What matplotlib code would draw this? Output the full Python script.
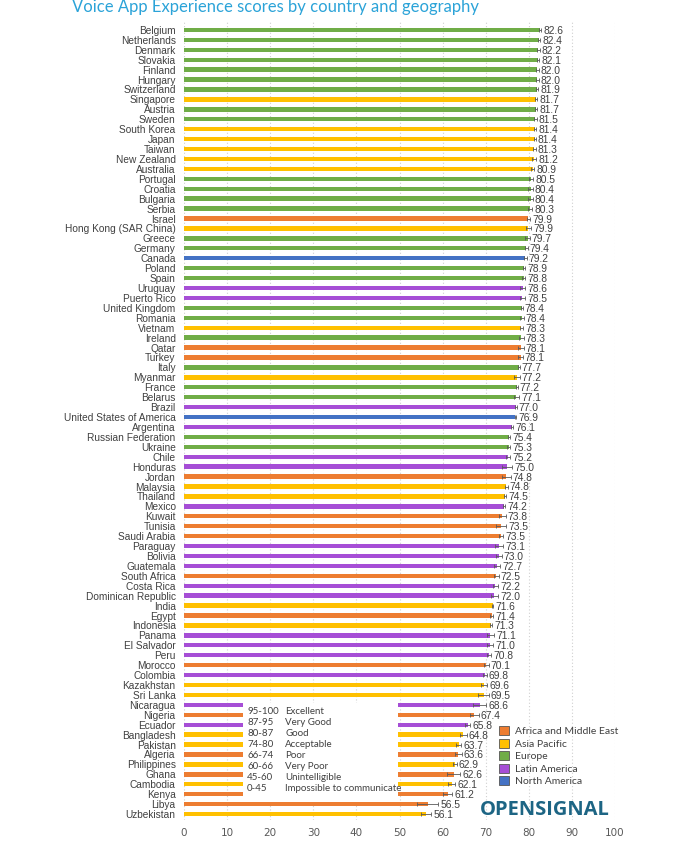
import matplotlib.pyplot as plt
from matplotlib.patches import Patch, Rectangle

# ----------------------------------------
# datos (de arriba hacia abajo)
# ----------------------------------------
paises = [
    "Belgium", "Netherlands", "Denmark", "Slovakia", "Finland", "Hungary",
    "Switzerland", "Singapore", "Austria", "Sweden", "South Korea", "Japan",
    "Taiwan", "New Zealand", "Australia", "Portugal", "Croatia", "Bulgaria",
    "Serbia", "Israel", "Hong Kong (SAR China)", "Greece", "Germany", "Canada",
    "Poland", "Spain", "Uruguay", "Puerto Rico", "United Kingdom", "Romania",
    "Vietnam", "Ireland", "Qatar", "Turkey", "Italy", "Myanmar", "France",
    "Belarus", "Brazil", "United States of America", "Argentina",
    "Russian Federation", "Ukraine", "Chile", "Honduras", "Jordan", "Malaysia",
    "Thailand", "Mexico", "Kuwait", "Tunisia", "Saudi Arabia", "Paraguay",
    "Bolivia", "Guatemala", "South Africa", "Costa Rica", "Dominican Republic",
    "India", "Egypt", "Indonesia", "Panama", "El Salvador", "Peru", "Morocco",
    "Colombia", "Kazakhstan", "Sri Lanka", "Nicaragua", "Nigeria", "Ecuador",
    "Bangladesh", "Pakistan", "Algeria", "Philippines", "Ghana", "Cambodia",
    "Kenya", "Libya", "Uzbekistan",
]

puntajes = [
    82.6, 82.4, 82.2, 82.1, 82.0, 82.0, 81.9, 81.7, 81.7, 81.5, 81.4, 81.4,
    81.3, 81.2, 80.9, 80.5, 80.4, 80.4, 80.3, 79.9, 79.9, 79.7, 79.4, 79.2,
    78.9, 78.8, 78.6, 78.5, 78.4, 78.4, 78.3, 78.3, 78.1, 78.1, 77.7, 77.2,
    77.2, 77.1, 77.0, 76.9, 76.1, 75.4, 75.3, 75.2, 75.0, 74.8, 74.8, 74.5,
    74.2, 73.8, 73.5, 73.5, 73.1, 73.0, 72.7, 72.5, 72.2, 72.0, 71.6, 71.4,
    71.3, 71.1, 71.0, 70.8, 70.1, 69.8, 69.6, 69.5, 68.6, 67.4, 65.8, 64.8,
    63.7, 63.6, 62.9, 62.6, 62.1, 61.2, 56.5, 56.1,
]

# intervalo de confianza aproximado
errores = [
    0.2, 0.3, 0.3, 0.3, 0.3, 0.3, 0.3, 0.3, 0.3, 0.3, 0.3, 0.2,
    0.3, 0.5, 0.3, 0.5, 0.5, 0.5, 0.5, 0.4, 0.6, 0.5, 0.3, 0.3,
    0.3, 0.3, 0.6, 0.6, 0.2, 0.4, 0.4, 0.5, 0.7, 0.5, 0.2, 0.7,
    0.2, 0.6, 0.2, 0.2, 0.3, 0.3, 0.4, 0.5, 1.2, 1.0, 0.3, 0.3,
    0.3, 0.8, 1.2, 0.5, 1.0, 0.7, 0.7, 0.5, 0.6, 0.8, 0.2, 0.4,
    0.2, 0.8, 0.8, 0.4, 0.6, 0.4, 0.8, 1.2, 1.5, 1.0, 0.6, 0.8,
    0.6, 0.8, 0.4, 1.5, 0.8, 1.0, 2.5, 1.2,
]

E, AP, AME, LA, NA = "Europe", "Asia Pacific", "Africa and Middle East", "Latin America", "North America"
regiones = [
    E, E, E, E, E, E, E, AP, E, E, AP, AP,
    AP, AP, AP, E, E, E, E, AME, AP, E, E, NA,
    E, E, LA, LA, E, E, AP, E, AME, AME, E, AP,
    E, E, LA, NA, LA, E, E, LA, LA, AME, AP, AP,
    LA, AME, AME, AME, LA, LA, LA, AME, LA, LA, AP, AME,
    AP, LA, LA, LA, AME, LA, AP, AP, LA, AME, LA, AP,
    AP, AME, AP, AME, AP, AME, AME, AP,
]

colores = {
    AME: "#ed7d31",
    AP: "#ffc000",
    E: "#70ad47",
    LA: "#a64ed6",
    NA: "#4472c4",
}
orden_leyenda = [AME, AP, E, LA, NA]

rangos = ["95-100", "87-95", "80-87", "74-80", "66-74", "60-66", "45-60", "0-45"]
calificaciones = ["Excellent", "Very Good", "Good", "Acceptable", "Poor",
                  "Very Poor", "Unintelligible", "Impossible to communicate"]

# ----------------------------------------
# figura
# ----------------------------------------
fig = plt.figure(figsize=(6.93, 8.5), dpi=100)
ax = fig.add_axes([184 / 693, 1 - 820 / 850, (615 - 184) / 693, 800 / 850])

y = list(range(len(paises)))
ax.barh(y, puntajes, height=0.44, color=[colores[r] for r in regiones],
        xerr=errores, error_kw=dict(ecolor="#595959", elinewidth=0.6,
                                    capsize=1.2, capthick=0.6), zorder=3)

for yi, v, e in zip(y, puntajes, errores):
    ax.text(v + e + 0.5, yi + 0.1, f"{v:.1f}", va="center", ha="left",
            fontsize=7.4, color="#404040", family="Liberation Sans", zorder=4)

ax.set_xlim(0, 100)
ax.set_ylim(79.6, -1.0)
ax.set_xticks(range(0, 101, 10))
ax.set_yticks(y)
ax.set_yticklabels(paises, fontsize=7.3, color="#404040", family="Liberation Sans")
ax.tick_params(axis="x", labelsize=7.5, labelcolor="#595959", length=0, pad=6)
ax.tick_params(axis="y", length=0, pad=6)
for s in ax.spines.values():
    s.set_visible(False)
ax.grid(axis="x", linestyle=(0, (1, 2)), color="#d0d0d0", linewidth=0.8, zorder=0)
ax.set_axisbelow(True)

# titulo
fig.text(72 / 693, 1 - 7 / 850, "Voice App Experience scores by country and geography",
         ha="left", va="center", fontsize=12, color="#2ba3d8", family="Lato")

# cuadro de rangos
fig.patches.append(Rectangle((243 / 693, 1 - 802 / 850), 155 / 693, 99 / 850,
                             transform=fig.transFigure, facecolor="white",
                             edgecolor="none", zorder=5))
for i, (r, c) in enumerate(zip(rangos, calificaciones)):
    yy = 1 - (711 + i * 11.1) / 850
    fig.text(247 / 693, yy, r, ha="left", va="center", fontsize=7,
             color="#404040", family="Lato", zorder=6)
    fig.text(285 / 693, yy, c, ha="left", va="center", fontsize=7,
             color="#404040", family="Lato", zorder=6)

# leyenda de regiones
manijas = [Patch(facecolor=colores[r], edgecolor="#555555", linewidth=0.6, label=r)
           for r in orden_leyenda]
fig.legend(handles=manijas, loc="upper left", bbox_to_anchor=(499 / 693, 1 - 726 / 850),
           frameon=False, prop=dict(family="Lato", size=7.5), handlelength=1.0,
           handleheight=1.0, handletextpad=0.5, labelspacing=0.22,
           borderaxespad=0, borderpad=0, labelcolor="#404040")

# logo
fig.text(545 / 693, 1 - 810 / 850, "OPENSIGNAL", ha="center", va="center",
         fontsize=14.5, fontweight="bold", color="#1d6584", family="Open Sans")

fig.savefig("out.png", dpi=100)
